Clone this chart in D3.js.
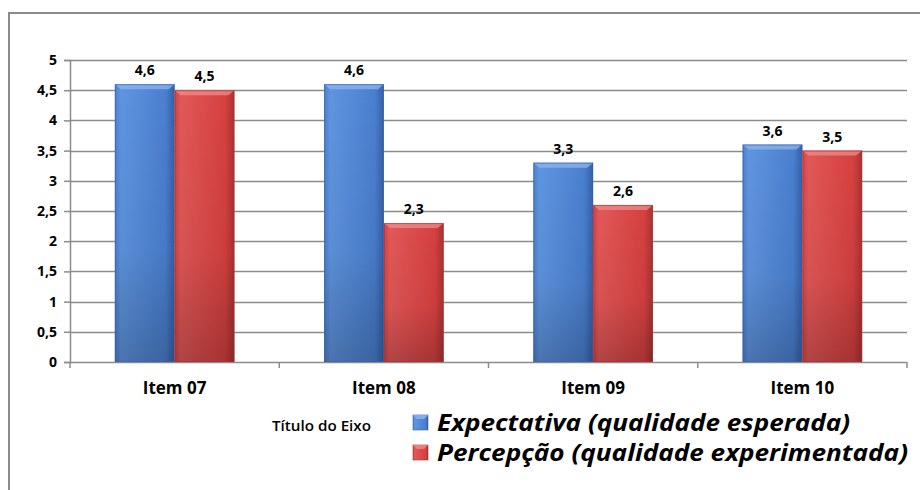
<!DOCTYPE html>
<html>
<head>
<meta charset="utf-8">
<script src="https://cdn.jsdelivr.net/npm/d3@7/dist/d3.min.js"></script>
<style>
  html, body { margin: 0; padding: 0; background: #fff; }
  svg { display: block; }
  text { font-family: "Open Sans", "DejaVu Sans", sans-serif; }
</style>
</head>
<body>
<svg id="chart" width="920" height="490"></svg>
<script>
const categories = ["Item 07", "Item 08", "Item 09", "Item 10"];
const seriesNames = ["Expectativa (qualidade esperada)", "Percepção (qualidade experimentada)"];
const expectativa = [4.6, 4.6, 3.3, 3.6];
const percepcao = [4.5, 2.3, 2.6, 3.5];
const yTicks = [0, 0.5, 1, 1.5, 2, 2.5, 3, 3.5, 4, 4.5, 5];
const axisTitle = "Título do Eixo";

const fmt = v => String(v).replace(".", ",");
const svg = d3.select("#chart");

// outer chart frame
svg.append("rect").attr("x", 9).attr("y", 13).attr("width", 940).attr("height", 500)
  .attr("fill", "none").attr("stroke", "#8a8a8a").attr("stroke-width", 2);

const plot = { left: 70, right: 907, top: 60, bottom: 362 };

const x = d3.scaleBand().domain(categories).range([plot.left, plot.right]).paddingInner(0).paddingOuter(0);
const inner = d3.scaleBand().domain([0, 1]).range([0, x.bandwidth()]).paddingInner(0).paddingOuter(0.75);
const y = d3.scaleLinear().domain([0, 5]).range([plot.bottom, plot.top]);

// fit a text element to a given width
function fitWidth(sel, target) {
  sel.attr("textLength", target).attr("lengthAdjust", "spacingAndGlyphs");
}

// gradients for the bevelled bars
const defs = svg.append("defs");
const palettes = [
  { id: "g0", light: "#5f95e0", mid: "#4a7fcf", dark: "#3560a6", top: "#8fb6ec" },
  { id: "g1", light: "#e25858", mid: "#d64040", dark: "#a83232", top: "#ee8c8c" }
];
palettes.forEach(p => {
  const h = defs.append("linearGradient").attr("id", p.id + "h").attr("x1", 0).attr("x2", 1).attr("y1", 0).attr("y2", 0);
  h.append("stop").attr("offset", 0).attr("stop-color", p.mid);
  h.append("stop").attr("offset", 0.1).attr("stop-color", p.light);
  h.append("stop").attr("offset", 0.85).attr("stop-color", p.mid);
  h.append("stop").attr("offset", 1).attr("stop-color", p.dark);
  const v = defs.append("linearGradient").attr("id", p.id + "v").attr("x1", 0).attr("x2", 0).attr("y1", 0).attr("y2", 1);
  v.append("stop").attr("offset", 0).attr("stop-color", "#000").attr("stop-opacity", 0);
  v.append("stop").attr("offset", 0.6).attr("stop-color", "#000").attr("stop-opacity", 0.05);
  v.append("stop").attr("offset", 1).attr("stop-color", "#000").attr("stop-opacity", 0.22);
});

// horizontal gridlines
svg.append("g").selectAll("line").data(yTicks.filter(t => t > 0)).join("line")
  .attr("x1", plot.left).attr("x2", plot.right)
  .attr("y1", d => Math.round(y(d)) + 0.5).attr("y2", d => Math.round(y(d)) + 0.5)
  .attr("stroke", "#8c8c8c").attr("stroke-width", 1.5);

// y axis
const yAxis = d3.axisLeft(y).tickValues(yTicks).tickFormat(fmt).tickSize(6).tickPadding(7);
const gy = svg.append("g").attr("transform", `translate(${plot.left},0)`).call(yAxis);
gy.select(".domain").attr("stroke", "#8c8c8c").attr("stroke-width", 1.5);
gy.selectAll(".tick line").attr("stroke", "#8c8c8c").attr("stroke-width", 1.5);
gy.selectAll(".tick text").attr("font-size", 14).attr("font-weight", 700).attr("fill", "#000");

// x axis line and boundary ticks
svg.append("line").attr("x1", plot.left).attr("x2", plot.right)
  .attr("y1", plot.bottom + 0.5).attr("y2", plot.bottom + 0.5)
  .attr("stroke", "#8c8c8c").attr("stroke-width", 1.5);
const bounds = categories.map(c => x(c)).concat([plot.right]);
svg.append("g").selectAll("line").data(bounds).join("line")
  .attr("x1", d => d).attr("x2", d => d)
  .attr("y1", plot.bottom).attr("y2", plot.bottom + 6)
  .attr("stroke", "#8c8c8c").attr("stroke-width", 1.5);
svg.append("g").selectAll("text").data(categories).join("text")
  .attr("x", d => x(d) + x.bandwidth() / 2).attr("y", 394)
  .attr("text-anchor", "middle").attr("font-size", 17).attr("font-weight", 700)
  .text(d => d);

// bars
const series = [expectativa, percepcao];
series.forEach((vals, si) => {
  const g = svg.append("g");
  const data = categories.map((c, i) => ({ c, v: vals[i] }));
  const bx = d => x(d.c) + inner(si);
  const w = inner.bandwidth();
  g.selectAll("rect.base").data(data).join("rect").attr("class", "base")
    .attr("x", bx).attr("y", d => y(d.v)).attr("width", w).attr("height", d => y(0) - y(d.v))
    .attr("fill", `url(#${palettes[si].id}h)`);
  g.selectAll("rect.shade").data(data).join("rect").attr("class", "shade")
    .attr("x", bx).attr("y", d => y(d.v)).attr("width", w).attr("height", d => y(0) - y(d.v))
    .attr("fill", `url(#${palettes[si].id}v)`);
  // bevelled top edge
  g.selectAll("path.bevel").data(data).join("path").attr("class", "bevel")
    .attr("d", d => {
      const x0 = bx(d), y0 = y(d.v);
      return `M${x0},${y0}L${x0 + w},${y0}L${x0 + w - 6},${y0 + 5}L${x0 + 6},${y0 + 5}Z`;
    })
    .attr("fill", palettes[si].top).attr("opacity", 0.75);
  g.selectAll("rect.edge").data(data).join("rect").attr("class", "edge")
    .attr("x", d => bx(d) + 0.5).attr("y", d => y(d.v) + 0.5).attr("width", w - 1).attr("height", d => y(0) - y(d.v) - 1)
    .attr("fill", "none").attr("stroke", palettes[si].dark).attr("stroke-opacity", 0.6);
  g.selectAll("text").data(data).join("text")
    .attr("x", d => bx(d) + w / 2).attr("y", d => y(d.v) - 9)
    .attr("text-anchor", "middle").attr("font-size", 14).attr("font-weight", 700)
    .text(d => fmt(d.v));
});

// axis title and legend
const title = svg.append("text").attr("x", 272).attr("y", 431).attr("font-size", 14).attr("font-weight", 600)
  .text(axisTitle);
fitWidth(title, 99);
const legendRows = [{ y: 431, name: seriesNames[0], p: palettes[0], target: 413 },
                    { y: 461, name: seriesNames[1], p: palettes[1], target: 471 }];
legendRows.forEach(r => {
  svg.append("rect").attr("x", 413).attr("y", r.y - 16).attr("width", 15).attr("height", 15)
    .attr("fill", `url(#${r.p.id}h)`).attr("stroke", r.p.dark).attr("stroke-opacity", 0.6);
  svg.append("path").attr("d", `M413,${r.y - 16}L428,${r.y - 16}L424,${r.y - 12}L417,${r.y - 12}Z`)
    .attr("fill", r.p.top).attr("opacity", 0.8);
  const t = svg.append("text").attr("x", 437).attr("y", r.y).attr("font-size", 24)
    .attr("font-weight", 700).attr("font-style", "italic").text(r.name);
  fitWidth(t, r.target);
});
</script>
</body>
</html>
